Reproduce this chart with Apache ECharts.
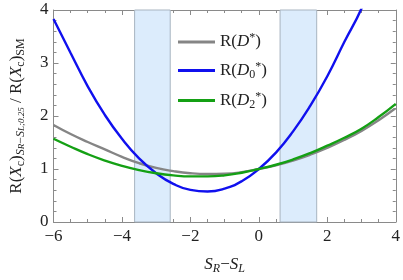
<!DOCTYPE html>
<html><head><meta charset="utf-8">
<script src="https://cdn.jsdelivr.net/npm/echarts@6/dist/echarts.min.js"></script>
<style>html,body{margin:0;padding:0;background:#fff}#c{width:403px;height:280px}</style>
</head><body><div id="c"></div>
<script>
const xValues = [-6,-5.5,-5,-4.5,-4,-3.5,-3,-2.5,-2,-1.5,-1,-0.5,0,0.5,1,1.5,2,2.5,3,3.5,4];
const grayVals  = [1.83,1.66,1.51,1.37,1.23,1.11,1.02,0.96,0.92,0.905,0.91,0.94,1.0,1.07,1.16,1.27,1.40,1.55,1.72,1.92,2.15];
const blueVals  = [3.83,3.19,2.56,2.02,1.57,1.20,0.92,0.72,0.605,0.576,0.63,0.77,1.0,1.31,1.71,2.19,2.75,3.40,4.03,4.85,5.8];
const greenVals = [1.57,1.42,1.28,1.16,1.06,0.98,0.92,0.88,0.86,0.86,0.88,0.93,1.0,1.08,1.18,1.30,1.44,1.59,1.76,1.98,2.23];
const bands = [[-3.63,-2.59],[0.62,1.69]];
const seriesNames = ['R(D*)','R(D0*)','R(D2*)'];
const xTicks = ['−6','−4','−2','0','2','4'];

const FONT = "'Liberation Serif', 'Times New Roman', serif";
const rich = {
  m:{fontFamily:FONT,fontSize:17,lineHeight:20,color:'#222',verticalAlign:'middle'},
  mi:{fontFamily:FONT,fontSize:17,lineHeight:20,color:'#222',fontStyle:'italic',verticalAlign:'middle'},
  s:{fontFamily:FONT,fontSize:12,lineHeight:12,color:'#222',verticalAlign:'bottom'},
  si:{fontFamily:FONT,fontSize:12,lineHeight:12,color:'#222',fontStyle:'italic',verticalAlign:'bottom'},
  ss:{fontFamily:FONT,fontSize:9,lineHeight:5,color:'#222',verticalAlign:'bottom'},
  ssi:{fontFamily:FONT,fontSize:9,lineHeight:5,color:'#222',fontStyle:'italic',verticalAlign:'bottom'},
  sup:{fontFamily:FONT,fontSize:12,lineHeight:12,color:'#222',verticalAlign:'top'}
};
const xNameRich = {
  mi:{fontFamily:FONT,fontSize:17,lineHeight:20,color:'#222',fontStyle:'italic',verticalAlign:'middle'},
  m:{fontFamily:FONT,fontSize:17,lineHeight:20,color:'#222',verticalAlign:'middle'},
  s:{fontFamily:FONT,fontSize:12,lineHeight:10,color:'#222',fontStyle:'italic',verticalAlign:'bottom'}
};
const legendRich = {
  'R(D*)':'{m|R(}{mi|D}{sup|*}{m|)}',
  'R(D0*)':'{m|R(}{mi|D}{s|0}{sup|*}{m|)}',
  'R(D2*)':'{m|R(}{mi|D}{s|2}{sup|*}{m|)}'
};
const colors = ['#858585','#1010ee','#14a014'];
const vals = [grayVals, blueVals, greenVals];

const chart = echarts.init(document.getElementById('c'));
const tickCol = '#8a8a8a';
function xAxisCfg(pos, labels){
  return {type:'value',position:pos,min:-6,max:4,interval:2,
    axisLine:{show:true,onZero:false,lineStyle:{color:tickCol,width:1}},
    axisTick:{show:true,inside:true,length:5,lineStyle:{color:tickCol}},
    minorTick:{show:true,splitNumber:4,length:3,lineStyle:{color:tickCol}},
    splitLine:{show:false},
    axisLabel:{show:labels,margin:6,fontFamily:FONT,fontSize:17,color:'#222',
      formatter:v=>xTicks[Math.round((v+6)/2)]}};
}
function yAxisCfg(pos, labels){
  return {type:'value',position:pos,min:0,max:4,interval:1,
    axisLine:{show:true,onZero:false,lineStyle:{color:tickCol,width:1}},
    axisTick:{show:true,inside:true,length:5,lineStyle:{color:tickCol}},
    minorTick:{show:true,splitNumber:5,length:3,lineStyle:{color:tickCol}},
    splitLine:{show:false},
    axisLabel:{show:labels,margin:5,fontFamily:FONT,fontSize:17,color:'#222'}};
}
const xa = xAxisCfg('bottom', true);
xa.name = '{mi|S}{s|R}{m|−}{mi|S}{s|L}';
xa.nameLocation = 'middle'; xa.nameGap = 33;
xa.nameTextStyle = {rich:xNameRich};
const ya = yAxisCfg('left', true);
ya.name = '{m|R(}{mi|X}{s|c}{m|)}{si|S}{ssi|R}{s|−}{si|S}{ssi|L;0.25}{m| / R(}{mi|X}{s|c}{m|)}{s|SM}';
ya.nameLocation = 'middle'; ya.nameGap = 27; ya.nameRotate = 90;
ya.nameTextStyle = {rich:rich};

const series = seriesNames.map((n,i)=>({
  name:n,type:'line',smooth:true,showSymbol:false,symbol:'none',clip:true,
  xAxisIndex:0,yAxisIndex:0,z:3,
  lineStyle:{color:colors[i],width:2.4},itemStyle:{color:colors[i]},
  data:xValues.map((x,j)=>[x,vals[i][j]])
}));
series[0].markArea = {silent:true,z:1,
  itemStyle:{color:'#dcecfc',borderColor:'#a8b4c0',borderWidth:1},
  data:bands.map(b=>[{xAxis:b[0],yAxis:0},{xAxis:b[1],yAxis:4}])};

chart.setOption({
  animation:false,
  grid:{left:43,right:5,top:10,bottom:52,containLabel:false},
  xAxis:[xa, xAxisCfg('top', false)],
  yAxis:[ya, yAxisCfg('right', false)],
  legend:{orient:'vertical',left:173,top:27,itemWidth:37,itemHeight:3,itemGap:10,icon:'rect',
    data:seriesNames,
    formatter:n=>legendRich[n],
    textStyle:{rich:rich}},
  series:series
});
</script></body></html>
